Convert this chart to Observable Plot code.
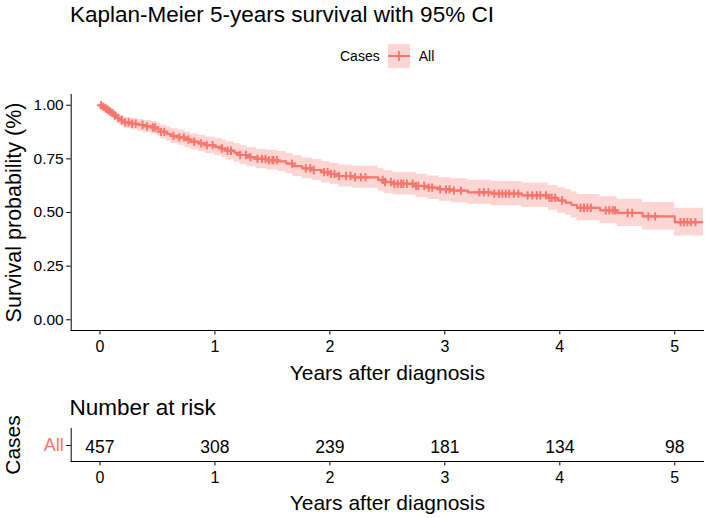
<!DOCTYPE html>
<html>
<head>
<meta charset="utf-8">
<script src="https://cdn.jsdelivr.net/npm/d3@7"></script>
<script src="https://cdn.jsdelivr.net/npm/@observablehq/plot@0.6"></script>
<style>
  body { margin: 0; background: #fff; font-family: "Liberation Sans", Arial, sans-serif; }
  #page { position: relative; width: 709px; height: 518px; overflow: hidden; background: #fff; }
  .abs { position: absolute; white-space: nowrap; color: #000; }
</style>
</head>
<body>
<div id="page">
  <div class="abs" style="left:70px; top:4.2px; font-size:22.5px; line-height:1;">Kaplan-Meier 5-years survival with 95% CI</div>
  <div class="abs" style="left:340px; top:44px; height:24px; display:flex; align-items:center; font-size:14px; line-height:1;">
    <span>Cases</span>
    <svg width="22" height="24" style="margin-left:8px; margin-right:9px; display:block">
      <rect width="22" height="24" fill="#F8766D" fill-opacity="0.3"></rect>
      <line x1="0" x2="22" y1="12" y2="12" stroke="#F8766D" stroke-width="2"></line>
      <line x1="11" x2="11" y1="7" y2="17" stroke="#F8766D" stroke-width="1.8"></line>
    </svg>
    <span>All</span>
  </div>
  <div class="abs" id="main" style="left:0; top:80px;"></div>
  <div class="abs" style="left:69.5px; top:396.6px; font-size:22.5px; line-height:1;">Number at risk</div>
  <div class="abs" id="risk" style="left:0; top:420px;"></div>
</div>
<script>
// Kaplan-Meier estimate (step changes) with 95% confidence limits
const stepTime  = [0.00, 0.02, 0.04, 0.06, 0.08, 0.10, 0.12, 0.15, 0.18, 0.21, 0.27, 0.33, 0.38, 0.45, 0.50, 0.53, 0.58, 0.62, 0.68, 0.74, 0.79, 0.86, 0.92, 1.00, 1.06, 1.10, 1.17, 1.22, 1.28, 1.36, 1.45, 1.55, 1.62, 1.68, 1.76, 1.85, 1.93, 2.00, 2.08, 2.20, 2.42, 2.47, 2.55, 2.75, 2.85, 2.95, 3.05, 3.20, 3.40, 3.67, 3.90, 3.98, 4.05, 4.10, 4.15, 4.35, 4.50, 4.72, 5.00, 5.30];
const stepSurv  = [1.000, 0.993, 0.985, 0.978, 0.970, 0.963, 0.952, 0.940, 0.930, 0.920, 0.914, 0.908, 0.902, 0.896, 0.888, 0.876, 0.866, 0.857, 0.850, 0.840, 0.830, 0.822, 0.814, 0.806, 0.798, 0.788, 0.778, 0.768, 0.758, 0.750, 0.744, 0.738, 0.728, 0.716, 0.706, 0.698, 0.688, 0.680, 0.670, 0.664, 0.652, 0.642, 0.634, 0.624, 0.616, 0.608, 0.602, 0.594, 0.588, 0.580, 0.568, 0.556, 0.546, 0.535, 0.522, 0.510, 0.498, 0.482, 0.455, 0.455];
const stepLower = [1.000, 0.985, 0.972, 0.962, 0.952, 0.943, 0.930, 0.916, 0.904, 0.893, 0.886, 0.879, 0.872, 0.865, 0.856, 0.843, 0.832, 0.822, 0.814, 0.803, 0.792, 0.783, 0.774, 0.765, 0.756, 0.745, 0.734, 0.724, 0.713, 0.704, 0.698, 0.691, 0.681, 0.668, 0.657, 0.649, 0.638, 0.630, 0.619, 0.613, 0.600, 0.589, 0.581, 0.570, 0.561, 0.553, 0.546, 0.538, 0.531, 0.523, 0.510, 0.497, 0.487, 0.475, 0.461, 0.448, 0.435, 0.418, 0.390, 0.390];
const stepUpper = [1.000, 0.998, 0.994, 0.989, 0.983, 0.979, 0.970, 0.960, 0.952, 0.944, 0.939, 0.934, 0.929, 0.924, 0.918, 0.907, 0.898, 0.890, 0.884, 0.875, 0.866, 0.859, 0.852, 0.845, 0.838, 0.829, 0.820, 0.811, 0.802, 0.795, 0.790, 0.784, 0.775, 0.764, 0.754, 0.747, 0.738, 0.730, 0.721, 0.715, 0.704, 0.695, 0.687, 0.678, 0.670, 0.663, 0.657, 0.650, 0.644, 0.637, 0.626, 0.615, 0.606, 0.596, 0.584, 0.573, 0.562, 0.547, 0.520, 0.520];

// Censoring times (years)
const censorTime = [0.01, 0.03, 0.05, 0.07, 0.09, 0.11, 0.13, 0.16, 0.19, 0.22, 0.25, 0.28, 0.31, 0.37, 0.41, 0.46, 0.48, 0.53, 0.56, 0.64, 0.69, 0.73, 0.77, 0.82, 0.88, 0.93, 0.98, 1.06, 1.11, 1.14, 1.22, 1.27, 1.31, 1.37, 1.41, 1.44, 1.47, 1.50, 1.51, 1.54, 1.67, 1.79, 1.83, 1.86, 1.95, 1.98, 2.01, 2.04, 2.08, 2.14, 2.18, 2.22, 2.27, 2.31, 2.46, 2.48, 2.53, 2.56, 2.59, 2.62, 2.64, 2.67, 2.72, 2.75, 2.77, 2.82, 2.86, 2.89, 2.96, 3.01, 3.04, 3.08, 3.14, 3.30, 3.34, 3.38, 3.43, 3.47, 3.50, 3.53, 3.56, 3.60, 3.64, 3.72, 3.76, 3.80, 3.83, 3.88, 3.91, 3.93, 3.96, 4.02, 4.18, 4.21, 4.24, 4.27, 4.40, 4.43, 4.46, 4.48, 4.59, 4.63, 4.77, 4.83, 5.05, 5.08, 5.11, 5.14, 5.18];

// Number at risk table
const strata    = ["All"];
const riskTime  = [0, 1, 2, 3, 4, 5];
const riskCount = [457, 308, 239, 181, 134, 98];

// Axis ticks and labels
const xTicks = [0, 1, 2, 3, 4, 5];
const yTicks = [0, 0.25, 0.5, 0.75, 1];
const xLabel = "Years after diagnosis";
const yLabel = "Survival probability (%)";
const riskYLabel = "Cases";

const color = "#F8766D";
const xDomain = [-0.25, 5.25];
const yDomain = [-0.05, 1.05];
const font = "'Liberation Sans', Arial, sans-serif";

const km = stepTime.map((t, i) => ({t, s: stepSurv[i], lo: stepLower[i], hi: stepUpper[i]}));
const survAt = t => stepSurv[d3.bisectRight(stepTime, t) - 1];
const censored = censorTime.map(t => ({t, s: survAt(t)}));

// "+" censor mark drawn as two strokes
const plus = {
  draw(ctx, size) {
    const r = Math.sqrt(size / Math.PI);
    ctx.moveTo(-r, 0); ctx.lineTo(r, 0);
    ctx.moveTo(0, -r); ctx.lineTo(0, r);
  }
};

const titleText = {textAnchor: "middle", lineAnchor: "middle"};

const main = Plot.plot({
  width: 709, height: 305,
  marginTop: 14, marginBottom: 55, marginLeft: 70.7, marginRight: 6,
  style: {fontFamily: font, color: "#000", background: "transparent", overflow: "visible"},
  x: {domain: xDomain},
  y: {domain: yDomain},
  marks: [
    Plot.areaY(km, {x: "t", y1: "lo", y2: "hi", curve: "step-after", fill: color, fillOpacity: 0.3, clip: true}),
    Plot.line(km, {x: "t", y: "s", curve: "step-after", stroke: color, strokeWidth: 2.2, clip: true}),
    Plot.dot(censored, {x: "t", y: "s", symbol: plus, r: 4.2, stroke: color, strokeWidth: 2, fill: "none", clip: true}),
    Plot.frame({anchor: "left", stroke: "#000"}),
    Plot.frame({anchor: "bottom", stroke: "#000"}),
    Plot.axisY(yTicks, {tickSize: 4.5, tickPadding: 3, tickFormat: d3.format(".2f"), fontSize: 15.5, label: null}),
    Plot.axisX(xTicks, {tickSize: 4.5, tickPadding: 6, tickFormat: d3.format("d"), fontSize: 16, label: null}),
    Plot.text([yLabel], {...titleText, text: d => d, frameAnchor: "left", dx: -57.2, rotate: -90, fontSize: 21.5}),
    Plot.text([xLabel], {...titleText, text: d => d, frameAnchor: "bottom", dy: 42.3, fontSize: 21})
  ]
});
document.getElementById("main").append(main);

const riskRows = riskTime.map((t, i) => ({t, n: riskCount[i], g: strata[0]}));
const risk = Plot.plot({
  width: 709, height: 98,
  marginTop: 8, marginBottom: 57, marginLeft: 70.7, marginRight: 6,
  style: {fontFamily: font, color: "#000", background: "transparent", overflow: "visible"},
  x: {domain: xDomain},
  y: {type: "point", domain: strata},
  marks: [
    Plot.frame({anchor: "left", stroke: "#000"}),
    Plot.frame({anchor: "bottom", stroke: "#000"}),
    Plot.text(riskRows, {x: "t", y: "g", text: "n", fontSize: 17.5, dy: 1.5}),
    Plot.axisY({tickSize: 4.5, tickPadding: 3, fill: color, fontSize: 18, label: null}),
    Plot.axisX(xTicks, {tickSize: 4.5, tickPadding: 6, tickFormat: d3.format("d"), fontSize: 16, label: null}),
    Plot.text([riskYLabel], {...titleText, text: d => d, frameAnchor: "left", dx: -57.7, rotate: -90, fontSize: 21}),
    Plot.text([xLabel], {...titleText, text: d => d, frameAnchor: "bottom", dy: 42, fontSize: 21})
  ]
});
document.getElementById("risk").append(risk);
</script>
</body>
</html>
